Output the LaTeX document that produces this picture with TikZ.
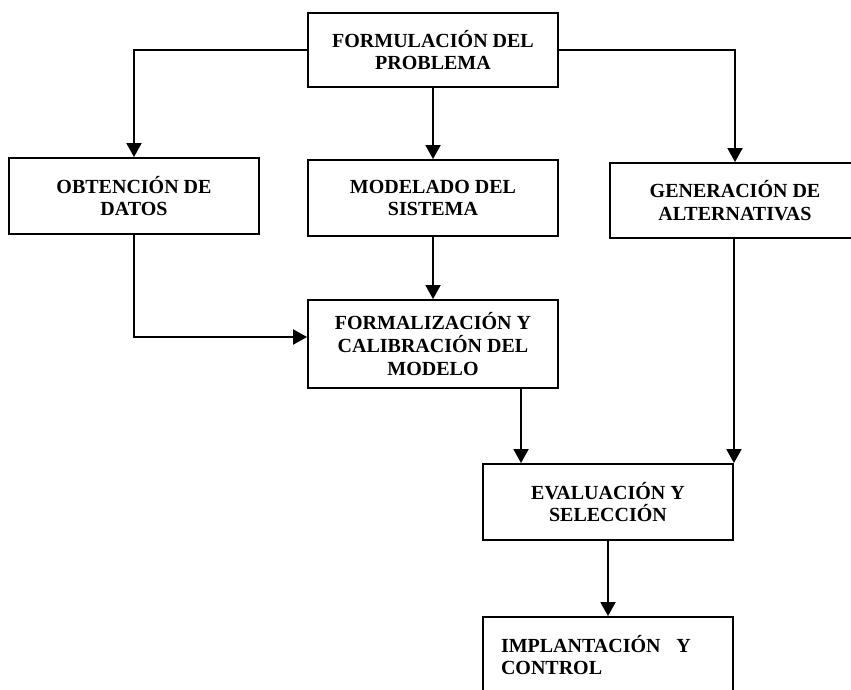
\documentclass[tikz,border=0pt]{standalone}
\usepackage{fontspec}
\setmainfont{Liberation Serif}
\usepackage{tikz}
\usetikzlibrary{arrows.meta}

\begin{document}
\begin{tikzpicture}[
  x=1pt, y=-1pt,
  >={Triangle[width=15pt,length=14pt]}, line width=1.9pt,
  box/.style={draw, align=center, inner sep=0pt, minimum width=250pt, minimum height=76pt,
    font=\bfseries\fontsize{20}{22.7}\selectfont}
]
  \useasboundingbox (0,0) rectangle (851,690);
  \clip (0,0) rectangle (851,690);

  \node[box, minimum height=74pt] (form) at (433,50) {FORMULACIÓN DEL\\ PROBLEMA};
  \node[box] (obt) at (134,196) {OBTENCIÓN DE\\ DATOS};
  \node[box] (mod) at (433,198) {MODELADO DEL\\ SISTEMA};
  \node[box, minimum height=75pt] (gen) at (735,200.5) {GENERACIÓN DE\\ ALTERNATIVAS};
  \node[box, minimum height=88pt] (cal) at (433,344) {FORMALIZACIÓN Y\\ CALIBRACIÓN DEL\\ MODELO};
  \node[box] (eva) at (608,502) {EVALUACIÓN Y\\ SELECCIÓN};
  \node[box, text width=214pt, align=left] (imp) at (608,655) {IMPLANTACIÓN\hspace{9pt} Y\\ CONTROL};

  \draw[->] (form.west) -| (obt.north);
  \draw[->] (form.south) -- (mod.north);
  \draw[->] (form.east) -| (gen.north);
  \draw[->] (obt.south) |- ([yshift=7pt]cal.west);
  \draw[->] (mod.south) -- (cal.north);
  \draw[->] ([xshift=88pt]cal.south) -- ([xshift=-87pt]eva.north);
  \draw[->] (gen.south -| eva.north east) -- (eva.north east);
  \draw[->] (eva.south) -- (imp.north);
\end{tikzpicture}
\end{document}
